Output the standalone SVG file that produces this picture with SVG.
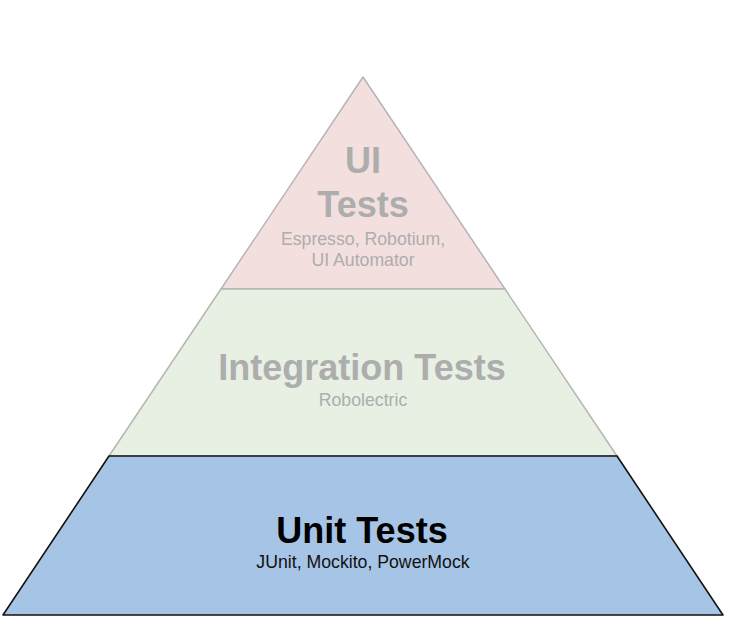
<svg xmlns="http://www.w3.org/2000/svg" width="730" height="618" viewBox="0 0 730 618">
<style>
.faint{stroke:#b5b5b5;stroke-width:1.5;stroke-linejoin:round}
.title{font-family:"Liberation Sans",Arial,sans-serif;font-weight:bold;font-size:36px;text-anchor:middle}
.sub{font-family:"Liberation Sans",Arial,sans-serif;font-size:17.7px;text-anchor:middle}
.grey{fill:#adadad}
.dark{fill:#000000}
</style>
<rect width="730" height="618" fill="#ffffff"/>
<g id="ui-tests">
<polygon class="faint" points="363,77 505,289 221,289" fill="#f4dfdf"/>
<text class="title grey" x="363" y="173">UI</text>
<text class="title grey" x="363" y="217">Tests</text>
<text class="sub grey" x="363" y="245">Espresso, Robotium,</text>
<text class="sub grey" x="363" y="266">UI Automator</text>
</g>
<g id="integration-tests">
<polygon class="faint" points="221,289 505,289 617,456 109,456" fill="#e8f0e3"/>
<text class="title grey" x="362" y="380">Integration Tests</text>
<text class="sub grey" x="363" y="406">Robolectric</text>
</g>
<g id="unit-tests">
<polygon points="109,456 617,456 723,615 3,615" fill="#a6c4e5" stroke="#111111" stroke-width="1.6" stroke-linejoin="round"/>
<text class="title dark" x="362" y="543">Unit Tests</text>
<text class="sub" fill="#111111" x="363" y="568">JUnit, Mockito, PowerMock</text>
</g>
<g id="connectors"></g>
</svg>
